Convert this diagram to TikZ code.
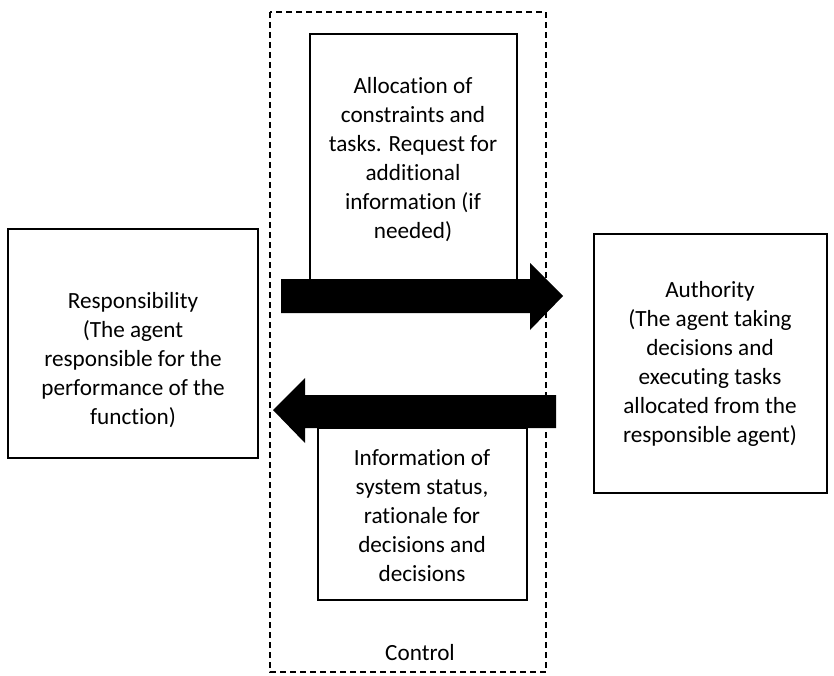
\documentclass[tikz,border=0pt]{standalone}
\usepackage{fontspec}
\setmainfont[RawFeature={-liga;-clig;-calt;-dlig;-rlig;-ccmp}]{Carlito}
\begin{document}
\begin{tikzpicture}[x=1pt,y=-1pt,
  box/.style={draw=black,line width=1.3pt,fill=white},
  label/.style={align=center,font=\fontsize{23.2}{29}\selectfont,inner sep=0pt},
  blockarrow/.style={fill=black,draw=none}]
\useasboundingbox (0,0) rectangle (834,676);
% control region
\draw[line width=1.2pt,dash pattern=on 6pt off 4pt] (270,12) rectangle (546,672);
% agent boxes
\draw[box] (8,229) rectangle (258,458);
\node[label] (resp) at (133,360) {Responsibility\\(The agent\\responsible for the\\performance of the\\function)};
\draw[box] (594,234) rectangle (827,493);
\node[label] (auth) at (710,364) {Authority\\(The agent taking\\decisions and\\executing tasks\\allocated from the\\responsible agent)};
% message boxes
\draw[box] (310,34) rectangle (517,280);
\node[label] (alloc) at (413,160) {Allocation of\\constraints and\\tasks. Request for\\additional\\information (if\\needed)};
\draw[box] (318,428) rectangle (527,600);
\node[label] (info) at (422,516) {Information of\\system status,\\rationale for\\decisions and\\decisions};
% block arrows
\fill[blockarrow] (281,279) -- (530,279) -- (530,263) -- (563,296) -- (530,330) -- (530,313) -- (281,313) -- cycle;
\fill[blockarrow] (556,395) -- (305,395) -- (305,378) -- (273,410) -- (305,443) -- (305,428) -- (556,428) -- cycle;
\node[label] (ctrl) at (420,653) {Control};
\end{tikzpicture}
\end{document}
